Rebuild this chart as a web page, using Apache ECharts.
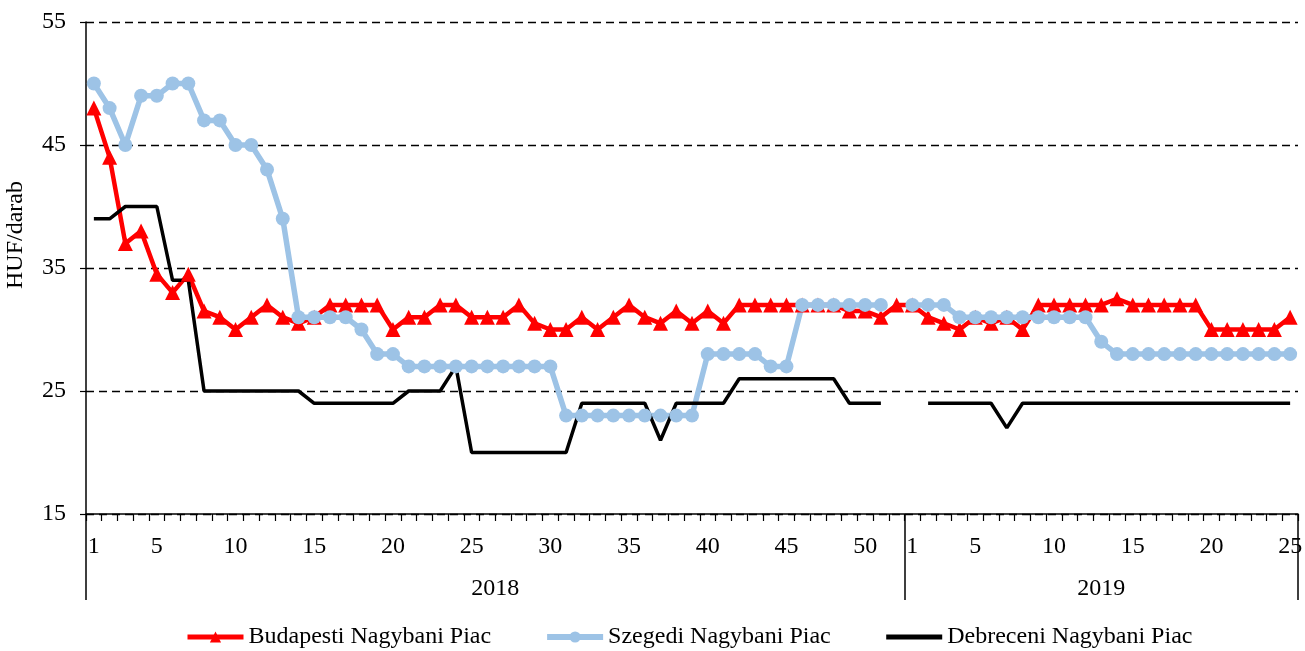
<!DOCTYPE html>
<html lang="hu">
<head>
    <meta charset="UTF-8">
    <title>Nagybani piaci árak</title>
    <script src="https://cdn.jsdelivr.net/npm/echarts@6/dist/echarts.min.js"></script>
    <style>
        html, body { margin: 0; padding: 0; background: #fff; }
        #chart { width: 1305px; height: 651px; }
    </style>
</head>
<body>
    <div id="chart"></div>
    <script>
        // hetek: 2018 (1-52) es 2019 (1-25)
        var years = ['2018', '2019'];
        var weeksPerYear = [52, 25];
        var weekLabels = [];
        weeksPerYear.forEach(function (n) {
            for (var w = 1; w <= n; w++) weekLabels.push(String(w));
        });
        var shownWeeks = [1, 5, 10, 15, 20, 25, 30, 35, 40, 45, 50];

        var budapest = [
            48, 44, 37, 38, 34.5, 33, 34.5, 31.5, 31, 30, 31, 32, 31, 30.5, 31, 32, 32, 32, 32, 30,
            31, 31, 32, 32, 31, 31, 31, 32, 30.5, 30, 30, 31, 30, 31, 32, 31, 30.5, 31.5, 30.5, 31.5,
            30.5, 32, 32, 32, 32, 32, 32, 32, 31.5, 31.5, 31, 32,
            32, 31, 30.5, 30, 31, 30.5, 31, 30, 32, 32, 32, 32, 32, 32.5, 32, 32, 32, 32, 32, 30,
            30, 30, 30, 30, 31
        ];
        var szeged = [
            50, 48, 45, 49, 49, 50, 50, 47, 47, 45, 45, 43, 39, 31, 31, 31, 31, 30, 28, 28,
            27, 27, 27, 27, 27, 27, 27, 27, 27, 27, 23, 23, 23, 23, 23, 23, 23, 23, 23, 28,
            28, 28, 28, 27, 27, 32, 32, 32, 32, 32, 32, null,
            32, 32, 32, 31, 31, 31, 31, 31, 31, 31, 31, 31, 29, 28, 28, 28, 28, 28, 28, 28,
            28, 28, 28, 28, 28
        ];
        var debrecen = [
            39, 39, 40, 40, 40, 34, 34, 25, 25, 25, 25, 25, 25, 25, 24, 24, 24, 24, 24, 24,
            25, 25, 25, 27, 20, 20, 20, 20, 20, 20, 20, 24, 24, 24, 24, 24, 21, 24, 24, 24,
            24, 26, 26, 26, 26, 26, 26, 26, 24, 24, 24, null,
            null, 24, 24, 24, 24, 24, 22, 24, 24, 24, 24, 24, 24, 24, 24, 24, 24, 24, 24, 24,
            24, 24, 24, 24, 24
        ];

        var font = 'Liberation Serif';
        var fs = 24;

        // evek hatarai es kozepe a masodik tengelyhez
        var bounds = [0];
        var mids = [];
        weeksPerYear.forEach(function (n, i) {
            mids.push(bounds[i] + n / 2);
            bounds.push(bounds[i] + n);
        });

        var chart = echarts.init(document.getElementById('chart'));
        var option = {
            animation: false,
            textStyle: { fontFamily: font, color: '#000' },
            grid: { left: 86, right: 7, top: 22, bottom: 137, outerBoundsMode: 'none', containLabel: false },
            legend: {
                top: 625,
                left: 185,
                padding: 0,
                itemWidth: 56,
                itemHeight: 14,
                itemGap: 53,
                textStyle: { fontFamily: font, fontSize: fs, color: '#000' },
                data: [
                    { name: 'Budapesti Nagybani Piac', lineStyle: { width: 5 } },
                    { name: 'Szegedi Nagybani Piac', lineStyle: { width: 6 } },
                    { name: 'Debreceni Nagybani Piac', lineStyle: { width: 5 }, itemStyle: { opacity: 0 } }
                ]
            },
            xAxis: [{
                type: 'category',
                data: weekLabels,
                boundaryGap: true,
                axisLine: { lineStyle: { color: '#000', width: 1.5 } },
                axisTick: { show: true, interval: 0, alignWithLabel: false, length: 7, lineStyle: { color: '#000', width: 1.2 } },
                axisLabel: {
                    interval: function (i, v) { return shownWeeks.indexOf(+v) >= 0; },
                    margin: 21,
                    fontSize: fs,
                    color: '#000',
                    fontFamily: font
                }
            }, {
                type: 'value',
                min: 0,
                max: bounds[bounds.length - 1],
                position: 'bottom',
                offset: 0,
                axisLine: { show: false },
                splitLine: { show: false },
                axisTick: {
                    show: true,
                    customValues: bounds,
                    length: 86,
                    lineStyle: { color: '#000', width: 1.5 }
                },
                axisLabel: {
                    customValues: mids,
                    margin: 63,
                    fontSize: fs,
                    color: '#000',
                    fontFamily: font,
                    formatter: function (v) {
                        for (var i = 0; i < years.length; i++) {
                            if (v < bounds[i + 1]) return years[i];
                        }
                        return '';
                    }
                }
            }],
            yAxis: {
                type: 'value',
                min: 15,
                max: 55,
                interval: 10,
                name: 'HUF/darab',
                nameLocation: 'middle',
                nameGap: 58,
                nameTextStyle: { fontSize: fs, color: '#000', fontFamily: font, padding: [0, 0, 0, 66] },
                axisLine: { show: true, lineStyle: { color: '#000', width: 1.5 } },
                axisTick: { show: true, length: 6, lineStyle: { color: '#000', width: 1.2 } },
                axisLabel: { margin: 20, fontSize: fs, color: '#000', fontFamily: font },
                splitLine: { lineStyle: { color: '#000', type: [8, 5], width: 1.4 } }
            },
            series: [{
                name: 'Budapesti Nagybani Piac',
                type: 'line',
                data: budapest,
                symbol: 'triangle',
                symbolSize: 15,
                showAllSymbol: true,
                color: '#ff0000',
                lineStyle: { width: 4.5, color: '#ff0000' },
                itemStyle: { color: '#ff0000' }
            }, {
                name: 'Szegedi Nagybani Piac',
                type: 'line',
                data: szeged,
                symbol: 'circle',
                symbolSize: 14,
                showAllSymbol: true,
                color: '#9dc3e6',
                lineStyle: { width: 5.5, color: '#9dc3e6' },
                itemStyle: { color: '#9dc3e6' }
            }, {
                name: 'Debreceni Nagybani Piac',
                type: 'line',
                data: debrecen,
                symbol: 'none',
                color: '#000',
                lineStyle: { width: 3.5, color: '#000' }
            }]
        };
        chart.setOption(option);
    </script>
</body>
</html>
